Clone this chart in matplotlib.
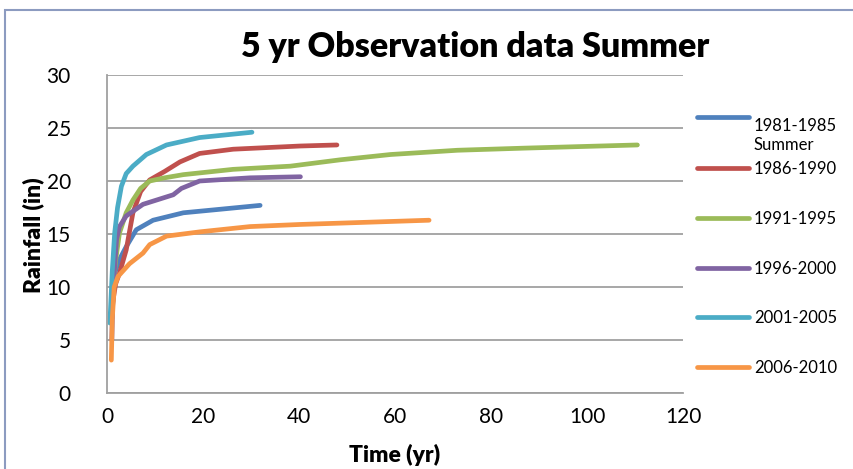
import matplotlib.pyplot as plt
from matplotlib.lines import Line2D
from matplotlib.patches import Rectangle

plt.rcParams["font.family"] = ["Lato", "DejaVu Sans"]

# cumulative rainfall (in) against time (yr), one series per 5-year window
t_8185 = [1, 1.6, 2.6, 4, 6.1, 9.6, 15.9, 22.8, 31.9]
r_8185 = [7, 11.3, 12.6, 13.8, 15.4, 16.3, 17.0, 17.3, 17.7]

t_8690 = [1, 1.8, 2.6, 4, 5.4, 7, 8.9, 12, 15.2, 19.3, 26.3, 40.2, 47.9]
r_8690 = [8, 10.3, 11.3, 13.5, 17.0, 19.0, 20.1, 20.9, 21.8, 22.6, 23.0, 23.3, 23.4]

t_9195 = [1, 1.8, 2.6, 4, 5.4, 7, 8.9, 12, 15.9, 26.3, 38.2, 48.6, 59.1, 73, 86.9, 110.5]
r_9195 = [9, 12.5, 15.1, 17.0, 18.2, 19.3, 20.0, 20.3, 20.6, 21.1, 21.4, 22.0, 22.5, 22.9, 23.1, 23.4]

t_9600 = [1, 1.25, 2, 2.6, 4, 7.5, 13.8, 15.5, 19.3, 29.8, 40.3]
r_9600 = [5, 9.7, 14.5, 15.7, 16.7, 17.8, 18.7, 19.3, 20.0, 20.3, 20.4]

t_0105 = [0.6, 1.1, 1.6, 2.2, 3, 4, 5.4, 8.2, 12.4, 19.3, 30.2]
r_0105 = [6.6, 11.5, 15.1, 17.5, 19.5, 20.7, 21.4, 22.5, 23.4, 24.1, 24.6]

t_0610 = [0.9, 1.1, 1.5, 2.3, 4.7, 7.5, 8.9, 12.4, 19.3, 29.8, 40.2, 67.1]
r_0610 = [3.1, 7.0, 10.0, 11.0, 12.2, 13.2, 14.0, 14.8, 15.2, 15.7, 15.9, 16.3]

labels = ["1981-1985\nSummer", "1986-1990", "1991-1995", "1996-2000", "2001-2005", "2006-2010"]
colors = ["#4F81BD", "#C0504D", "#9BBB59", "#8064A2", "#4BACC6", "#F79646"]
series = [(t_8185, r_8185), (t_8690, r_8690), (t_9195, r_9195),
          (t_9600, r_9600), (t_0105, r_0105), (t_0610, r_0610)]

W, H = 854, 469
fig = plt.figure(figsize=(W / 100, H / 100), dpi=100)
ax = fig.add_axes([107 / W, 1 - 393 / H, (683 - 107) / W, (393 - 75) / H])

for (t, r), c in zip(series, colors):
    ax.plot(t, r, color=c, lw=3.4, solid_capstyle="round", solid_joinstyle="round")

ax.set_xlim(0, 120)
ax.set_ylim(0, 30)
ax.set_xticks(range(0, 121, 20))
ax.set_yticks(range(0, 31, 5))
ax.grid(axis="y", color="#A0A0A0", lw=1.3)
ax.set_axisbelow(True)
ax.tick_params(length=0, labelsize=15, pad=10)
ax.tick_params(axis="y", pad=26)
for s in ["top", "right"]:
    ax.spines[s].set_visible(False)
for s in ["left", "bottom"]:
    ax.spines[s].set_color("#A0A0A0")
    ax.spines[s].set_linewidth(1.3)

fig.text(395 / W, 1 - 455 / H, "Time (yr)", ha="center", va="center",
         fontsize=16.5, fontweight="heavy")
fig.text(33 / W, 1 - 235 / H, "Rainfall (in)", ha="center", va="center",
         rotation=90, fontsize=16.5, fontweight="heavy")
fig.text(475 / W, 1 - 47 / H, "5 yr Observation data Summer", ha="center",
         va="center", fontsize=24.5, fontweight="heavy")

# legend entries on the right
ys = [117, 168, 218, 268, 317, 367]
for y, c, lab in zip(ys, colors, labels):
    fig.add_artist(Line2D([697 / W, 749 / W], [1 - y / H, 1 - y / H], color=c,
                          lw=3.4, solid_capstyle="round"))
    fig.text(754 / W, 1 - (y + 1) / H, lab, ha="left", va="top" if "\n" in lab else "center",
             fontsize=12, linespacing=1.25,
             transform=fig.transFigure)

fig.add_artist(Rectangle((5 / W, -0.1), 1.2, 1 - 10 / H + 0.1, transform=fig.transFigure,
                         fill=False, edgecolor="#8C9BC0", lw=1.5))

fig.savefig("out.png", dpi=100)
